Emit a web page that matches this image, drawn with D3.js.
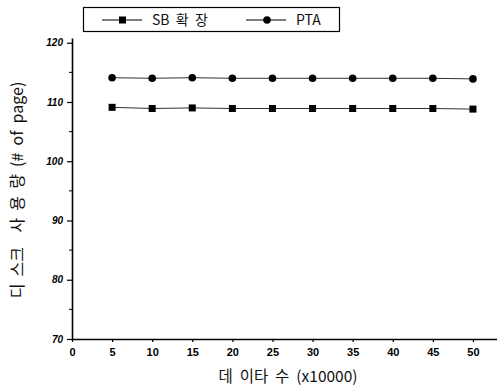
<!DOCTYPE html>
<html>
<head>
<meta charset="utf-8">
<script src="https://cdn.jsdelivr.net/npm/d3@7"></script>
<style>
  body { margin: 0; background: #fff; }
  svg { display: block; }
  text { white-space: pre; }
</style>
</head>
<body>
<div id="chart"></div>
<script>
// data
const dataCounts = [5, 10, 15, 20, 25, 30, 35, 40, 45, 50];
const sbValues = [109.1, 108.9, 109.0, 108.9, 108.9, 108.9, 108.9, 108.9, 108.9, 108.8];
const ptaValues = [114.1, 114.0, 114.1, 114.0, 114.0, 114.0, 114.0, 114.0, 114.0, 113.9];
const seriesNames = ["SB  확  장", "PTA"];
const xTicks = [0, 5, 10, 15, 20, 25, 30, 35, 40, 45, 50];
const yTicks = [70, 80, 90, 100, 110, 120];
const yMinor = [75, 85, 95, 105, 115];

const W = 497, H = 387;
const margin = { top: 38, right: 0, bottom: 48, left: 72 };
const width = W - margin.left - margin.right,
  height = H - margin.top - margin.bottom;

const korFont = "'Noto Sans CJK KR', 'Liberation Sans', sans-serif";

const svg = d3.select("#chart").append("svg")
  .attr("width", W).attr("height", H);
const g = svg.append("g")
  .attr("transform", `translate(${margin.left},${margin.top})`);

const x = d3.scaleLinear().domain([0, 53]).range([0, width]);
const y = d3.scaleLinear().domain([70, 120.8]).range([height, 0]);

// axes
const xAxis = g.append("g")
  .attr("transform", `translate(0,${height})`)
  .call(d3.axisBottom(x).tickValues(xTicks).tickSize(3).tickSizeOuter(0).tickPadding(6));
xAxis.selectAll("text")
  .attr("font-family", "Arial, 'Liberation Sans', sans-serif")
  .attr("font-weight", "bold")
  .attr("font-size", 11)
  .attr("fill", "#000");

const yAxis = g.append("g")
  .call(d3.axisLeft(y).tickValues(yTicks).tickSize(5).tickSizeOuter(0).tickPadding(4));
yAxis.selectAll("text")
  .attr("font-family", "Arial, 'Liberation Sans', sans-serif")
  .attr("font-weight", "bold")
  .attr("font-style", "italic")
  .attr("font-size", 10)
  .attr("fill", "#000");

g.append("g").selectAll("line")
  .data(yMinor)
  .join("line")
  .attr("x1", -3).attr("x2", 0)
  .attr("y1", d => y(d)).attr("y2", d => y(d))
  .attr("stroke", "#000");

g.selectAll(".domain").attr("stroke-width", 1.6).attr("stroke", "#000");
g.selectAll(".tick line").attr("stroke", "#000").attr("stroke-width", 1.2);

// series
const series = [
  { name: seriesNames[0], values: sbValues, marker: "square" },
  { name: seriesNames[1], values: ptaValues, marker: "circle" }
];

const line = d3.line()
  .x((d, i) => x(dataCounts[i]))
  .y(d => y(d));

series.forEach(s => {
  g.append("path")
    .datum(s.values)
    .attr("fill", "none")
    .attr("stroke", "#333")
    .attr("stroke-width", 1)
    .attr("d", line);

  const marks = g.append("g").selectAll(".m").data(s.values).join(s.marker === "square" ? "rect" : "circle");
  if (s.marker === "square") {
    marks.attr("x", (d, i) => x(dataCounts[i]) - 3.5)
      .attr("y", d => y(d) - 3.5)
      .attr("width", 7).attr("height", 7)
      .attr("fill", "#000");
  } else {
    marks.attr("cx", (d, i) => x(dataCounts[i]))
      .attr("cy", d => y(d))
      .attr("r", 3.8)
      .attr("fill", "#000");
  }
});

// legend
const legend = svg.append("g");
legend.append("rect")
  .attr("x", 83.5).attr("y", 7.5)
  .attr("width", 256).attr("height", 24)
  .attr("fill", "#fff").attr("stroke", "#000").attr("stroke-width", 1.2);

const legendX = [102, 246];
series.forEach((s, i) => {
  const lx = legendX[i], ly = 20;
  legend.append("line")
    .attr("x1", lx).attr("x2", lx + 40)
    .attr("y1", ly).attr("y2", ly)
    .attr("stroke", "#000").attr("stroke-width", 1.2);
  if (s.marker === "square") {
    legend.append("rect").attr("x", lx + 17).attr("y", ly - 3.5)
      .attr("width", 7).attr("height", 7).attr("fill", "#000");
  } else {
    legend.append("circle").attr("cx", lx + 21).attr("cy", ly).attr("r", 3.8).attr("fill", "#000");
  }
  legend.append("text")
    .attr("x", lx + 50).attr("y", ly + 5)
    .style("font-family", korFont)
    .style("font-size", "14px")
    .attr("fill", "#111")
    .text(s.name);
});

// axis titles
svg.append("text")
  .attr("x", 288).attr("y", 382)
  .attr("text-anchor", "middle")
  .style("font-family", korFont)
  .style("font-size", "15.5px")
  .attr("fill", "#111")
  .text("데  이타  수  (x10000)");

svg.append("text")
  .attr("transform", `translate(23,190) rotate(-90)`)
  .attr("text-anchor", "middle")
  .style("font-family", korFont)
  .style("font-size", "16px")
  .attr("fill", "#111")
  .text("디  스크    사  용  량  (#  of  page)");
</script>
</body>
</html>
